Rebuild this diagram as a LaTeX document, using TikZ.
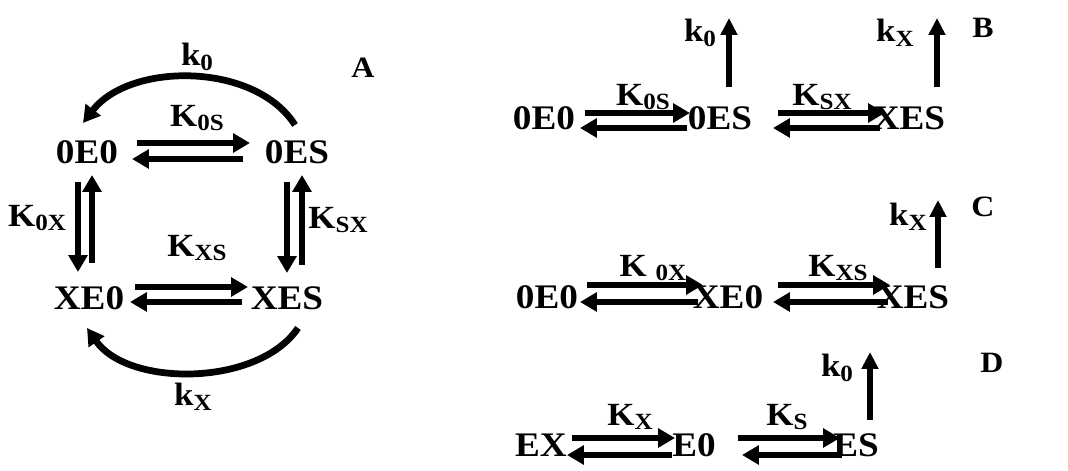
\documentclass[tikz,border=0pt]{standalone}
\usepackage{fontspec}
\setmainfont{Liberation Serif}[FakeStretch=1.08]
\usetikzlibrary{arrows.meta,calc}
\newcommand\mysub[1]{\raisebox{-0.14em}{\fontsize{16.5}{16.5}\selectfont #1}}
\begin{document}
\begin{tikzpicture}[x=0.025cm,y=-0.025cm,
  sp/.style={font=\fontsize{24.5}{25}\selectfont\bfseries, inner sep=0},
  lab/.style={font=\fontsize{23}{23}\selectfont\bfseries, inner sep=0},
  panel/.style={font=\fontsize{21}{21}\selectfont\bfseries, inner sep=0},
  rx/.style={line width=4.8pt, -{Triangle[length=0.42cm,width=0.46cm]}},
  ux/.style={line width=3.8pt, -{Triangle[length=0.42cm,width=0.4cm]}}]
\path[use as bounding box] (0,0) rectangle (1068,471);
% ---------- Panel A ----------
\node[sp] (oeo) at (87,152) {0E0};
\node[sp] (oes) at (297,152) {0ES};
\node[sp] (xeo) at (89,298) {XE0};
\node[sp] (xes) at (287,298) {XES};
\node[lab] (k0A) at (197,57) {k\mysub{0}};
\node[panel] (pA) at (363,68) {A};
\node[lab] (K0SA) at (197,118) {K\mysub{0S}};
\node[lab] (K0XA) at (37,218) {K\mysub{0X}};
\node[lab] (KSXA) at (338,220) {K\mysub{SX}};
\node[lab] (KXSA) at (197,248) {K\mysub{XS}};
\node[lab] (kXA) at (193,397) {k\mysub{X}};
\draw[rx] ($(oeo)+(50,-9)$) -- ($(oes)+(-47,-9)$);
\draw[rx] ($(oes)+(-54,7)$) -- ($(oeo)+(45,7)$);
\draw[rx] ($(oeo)+(-9,30)$) -- ($(xeo)+(-11,-26)$);
\draw[rx] ($(xeo)+(3,-35)$) -- ($(oeo)+(5,23)$);
\draw[rx] ($(oes)+(-10,30)$) -- ($(xes)+(0,-25)$);
\draw[rx] ($(xes)+(15,-33)$) -- ($(oes)+(5,23)$);
\draw[rx] ($(xeo)+(46,-11)$) -- ($(xes)+(-39,-11)$);
\draw[rx] ($(xes)+(-45,4)$) -- ($(xeo)+(41,4)$);
\draw[rx] ($(oes)+(-2,-27)$) .. controls (255,62) and (130,62) .. ($(oeo)+(-4,-29)$);
\draw[rx] ($(xes)+(11,30)$) .. controls (258,387) and (128,387) .. ($(xeo)+(-2,30)$);
% ---------- Panel B ----------
\node[sp] (oeoB) at (544,118) {0E0};
\node[sp] (oesB) at (720,118) {0ES};
\node[sp] (xesB) at (909,118) {XES};
\node[lab] (K0SB) at (643,97) {K\mysub{0S}};
\node[lab] (KSXB) at (822,97) {K\mysub{SX}};
\node[lab] (k0B) at (700,33) {k\mysub{0}};
\node[lab] (kXB) at (895,33) {k\mysub{X}};
\node[panel] (pB) at (983,28) {B};
\coordinate (eB1) at (729,18);
\coordinate (eB2) at (937,18);
\draw[rx] ($(oeoB)+(41,-5)$) -- ($(oesB)+(-30,-5)$);
\draw[rx] ($(oesB)+(-33,10)$) -- ($(oeoB)+(36,10)$);
\draw[rx] ($(oesB)+(58,-5)$) -- ($(xesB)+(-24,-5)$);
\draw[rx] ($(xesB)+(-29,10)$) -- ($(oesB)+(53,10)$);
\draw[ux] ($(oesB)+(9,-31)$) -- (eB1);
\draw[ux] ($(xesB)+(28,-31)$) -- (eB2);
% ---------- Panel C ----------
\node[sp] (oeoC) at (547,297) {0E0};
\node[sp] (xeoC) at (728,297) {XE0};
\node[sp] (xesC) at (913,297) {XES};
\node[lab] (K0XC) at (653,268) {K\ \mysub{0X}};
\node[lab] (KXSC) at (838,268) {K\mysub{XS}};
\node[lab] (kXC) at (908,217) {k\mysub{X}};
\node[panel] (pC) at (983,207) {C};
\coordinate (eC1) at (938,200);
\draw[rx] ($(oeoC)+(40,-12)$) -- ($(xeoC)+(-25,-12)$);
\draw[rx] ($(xeoC)+(-30,5)$) -- ($(oeoC)+(33,5)$);
\draw[rx] ($(xeoC)+(50,-12)$) -- ($(xesC)+(-23,-12)$);
\draw[rx] ($(xesC)+(-25,5)$) -- ($(xeoC)+(45,5)$);
\draw[ux] ($(xesC)+(25,-29)$) -- (eC1);
% ---------- Panel D ----------
\node[sp] (ex) at (541,445) {EX};
\node[sp] (eo) at (694,445) {E0};
\node[sp] (es) at (856,445) {ES};
\node[lab] (KXD) at (630,417) {K\mysub{X}};
\node[lab] (KSD) at (787,417) {K\mysub{S}};
\node[lab] (k0D) at (837,368) {k\mysub{0}};
\node[panel] (pD) at (992,363) {D};
\coordinate (eD1) at (870,352);
\draw[rx] ($(ex)+(31,-7)$) -- ($(eo)+(-19,-7)$);
\draw[rx] ($(eo)+(-22,10)$) -- ($(ex)+(26,10)$);
\draw[rx] ($(eo)+(44,-7)$) -- ($(es)+(-16,-7)$);
\draw[rx] ($(es)+(-14,10)$) -- ($(eo)+(48,10)$);
\draw[ux] ($(es)+(14,-25)$) -- (eD1);
\end{tikzpicture}
\end{document}
